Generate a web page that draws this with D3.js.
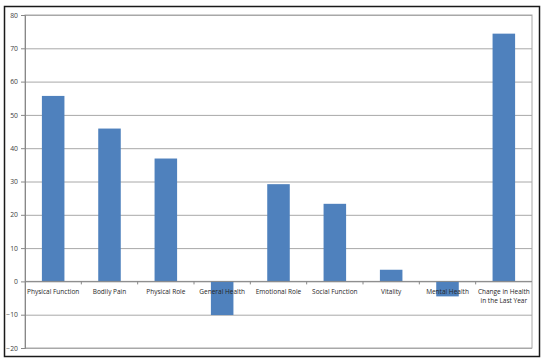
<!DOCTYPE html>
<html>
<head>
<meta charset="utf-8">
<script src="https://cdn.jsdelivr.net/npm/d3@7"></script>
<style>
  body { margin: 0; background: #ffffff; }
</style>
</head>
<body>
<div id="chart"></div>
<script>
// chart data
var categories = ["Physical Function", "Bodily Pain", "Physical Role", "General Health",
  "Emotional Role", "Social Function", "Vitality", "Mental Health", "Change in Health\nin the Last Year"];
var values = [55.7, 45.9, 36.9, -10.1, 29.2, 23.3, 3.5, -4.5, 74.4];
var yTicks = [-20, -10, 0, 10, 20, 30, 40, 50, 60, 70, 80];

var width = 547;
var height = 361;
var plot_left = 25, plot_right = 532, plot_top = 15, plot_bottom = 348;
var bar_color = "#4f81bd";
var grid_color = "#a8a8a8";
var font = "'Open Sans', 'Noto Sans', sans-serif";

var svg = d3.select("#chart").append("svg")
  .attr("width", width)
  .attr("height", height);

// outer frame
svg.append("rect")
  .attr("x", 4.5).attr("y", 6.5)
  .attr("width", 535).attr("height", 350)
  .style("fill", "#ffffff")
  .style("stroke", "#1a1a1a")
  .style("stroke-width", 1.5);

var x_scale = d3.scaleBand()
  .domain(categories)
  .range([plot_left, plot_right])
  .paddingInner(0.6)
  .paddingOuter(0.3);

var y_scale = d3.scaleLinear()
  .domain([-20, 80])
  .range([plot_bottom, plot_top]);

// gridlines
svg.append("g")
  .attr("transform", "translate(" + plot_left + ",0)")
  .call(d3.axisLeft(y_scale).tickValues(yTicks).tickSize(-(plot_right - plot_left)).tickFormat(""))
  .call(g => g.select(".domain").remove())
  .selectAll("line")
  .style("stroke", grid_color);

// plot area border
svg.append("rect")
  .attr("x", plot_left).attr("y", plot_top)
  .attr("width", plot_right - plot_left).attr("height", plot_bottom - plot_top)
  .style("fill", "none")
  .style("stroke", grid_color);

// y axis
var y_axis = svg.append("g")
  .attr("transform", "translate(" + plot_left + ",0)")
  .call(d3.axisLeft(y_scale).tickValues(yTicks).tickSize(4).tickPadding(3));
y_axis.selectAll("line").style("stroke", "#888888");
y_axis.select(".domain").style("stroke", "#888888");
y_axis.selectAll("text")
  .style("font-family", font)
  .style("font-size", "6.8px")
  .style("fill", "#404040");

// bars
svg.selectAll("rect.bar")
  .data(values)
  .enter().append("rect")
  .attr("class", "bar")
  .attr("x", (d, i) => x_scale(categories[i]))
  .attr("width", x_scale.bandwidth())
  .attr("y", d => y_scale(Math.max(0, d)))
  .attr("height", d => Math.abs(y_scale(d) - y_scale(0)))
  .style("fill", bar_color);

// zero line with category ticks
var step = x_scale.step();
svg.append("line")
  .attr("x1", plot_left).attr("x2", plot_right)
  .attr("y1", y_scale(0)).attr("y2", y_scale(0))
  .style("stroke", "#888888");
categories.forEach(function(c, i) {
  if (i == 0) return;
  var xx = x_scale(c) - (step - x_scale.bandwidth()) / 2;
  svg.append("line")
    .attr("x1", xx).attr("x2", xx)
    .attr("y1", y_scale(0)).attr("y2", y_scale(0) + 3)
    .style("stroke", "#888888");
});

// category labels
categories.forEach(function(c) {
  var lines = c.split("\n");
  var t = svg.append("text")
    .attr("x", x_scale(c) + x_scale.bandwidth() / 2)
    .attr("y", y_scale(0) + 12.5)
    .style("text-anchor", "middle")
    .style("font-family", font)
    .style("font-size", "6.5px")
    .style("fill", "#262626");
  lines.forEach(function(l, j) {
    t.append("tspan")
      .attr("x", x_scale(c) + x_scale.bandwidth() / 2)
      .attr("dy", j == 0 ? 0 : 9.5)
      .text(l);
  });
});
</script>
</body>
</html>
